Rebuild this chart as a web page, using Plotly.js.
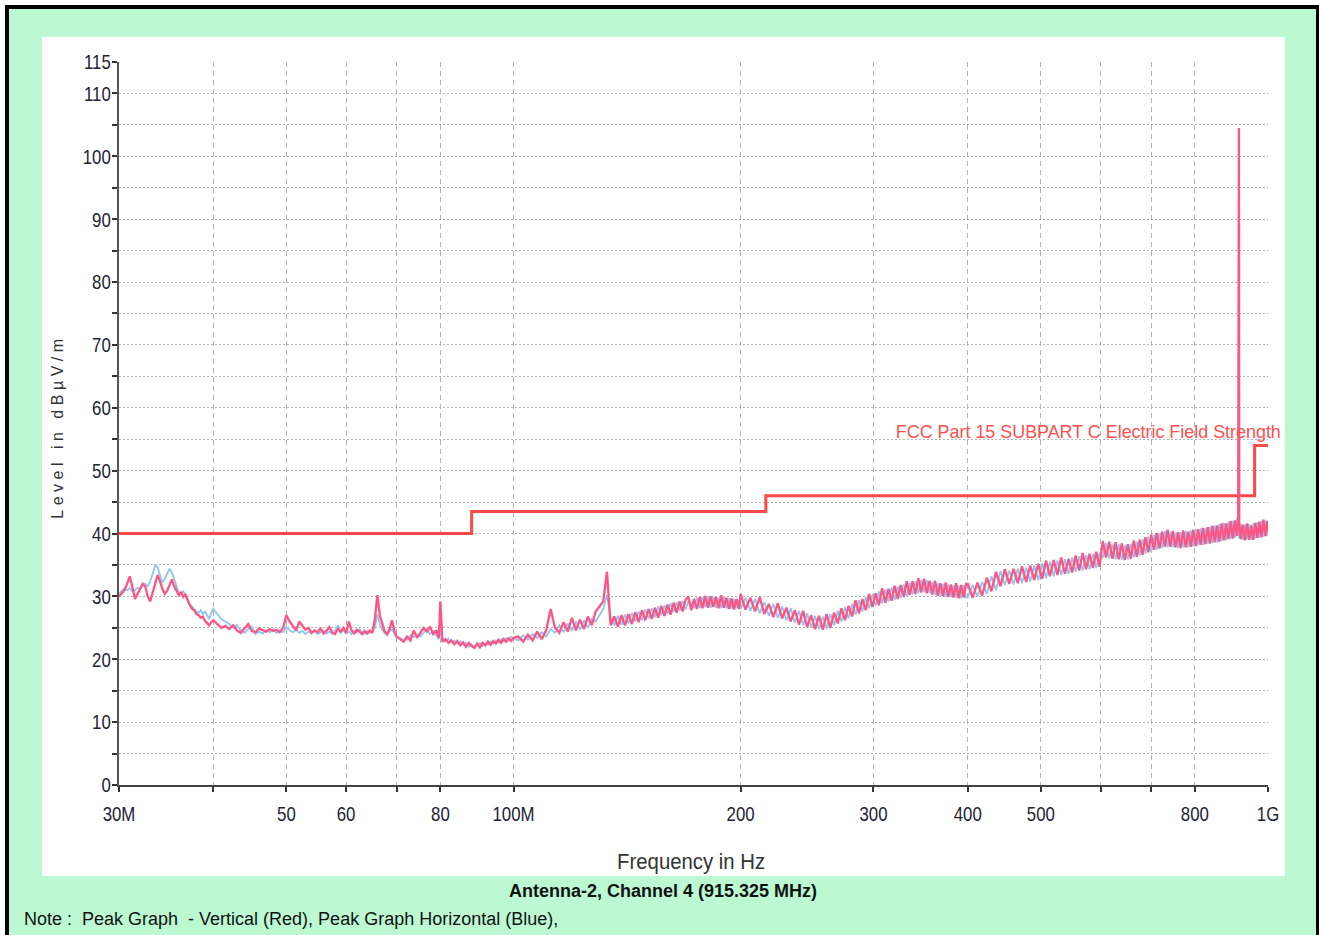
<!DOCTYPE html>
<html><head><meta charset="utf-8">
<script src="https://cdn.plot.ly/plotly-3.0.1.min.js"></script>
<style>html,body{margin:0;padding:0;background:#fff;} #chart{width:1319px;height:935px;}</style>
</head><body><div id="chart"></div>
<script>
// ---- data (MHz, dBµV/m) ----
const freqA = [30,30.25,30.5,30.75,31,31.25,31.5,31.75,32,32.25,32.5,32.75,33,33.25,33.5,33.75,34,34.25,34.5,34.75,35,35.25,35.5,35.75,36,36.25,36.5,36.75,37,37.25,37.5,37.75,38,38.25,38.5,38.75,39,39.25,39.5,39.75,40];
const redA = [30.0,30.5,31.0,32.0,33.2,31.5,29.6,30.4,31.2,32.0,31.6,30.0,29.2,30.6,32.2,33.4,32.4,31.2,30.4,30.9,31.8,32.7,31.6,30.8,30.2,30.7,29.9,30.3,29.4,28.6,28.0,27.8,27.2,27.0,26.6,26.8,26.1,25.8,25.4,25.9,26.2];
const blueA = [30.5,30.9,31.2,31.0,31.3,30.8,31.0,31.4,31.2,31.8,32.0,31.6,32.4,33.6,35.0,34.6,33.2,32.2,32.8,33.6,34.4,33.8,32.6,31.4,30.6,30.4,30.8,30.1,29.2,28.6,28.4,27.9,27.6,27.4,27.8,27.2,27.6,27.0,26.4,27.3,28.0];

const freqB = [40.5,41,41.5,42,42.5,43,43.5,44,44.5,45,45.5,46,46.5,47,47.5,48,48.5,49,49.5,50,50.5,51,51.5,52,52.5,53,53.5,54,54.5,55,55.5,56,56.5,57,57.5,58,58.5,59,59.5,60,60.5,61,61.5,62,62.5,63,63.5,64,64.5,65,65.5,66,66.5,67,67.5,68,68.5,69,69.5,70];
const redB = [25.6,25.0,25.3,24.8,25.4,24.6,24.2,24.9,25.6,24.5,24.3,24.9,24.6,24.4,24.8,24.5,24.7,24.3,25.0,27.0,26.0,25.2,24.6,26.0,25.4,24.7,25.0,24.2,24.6,24.3,24.9,24.1,24.5,25.1,24.3,24.0,24.8,24.4,25.0,24.2,26.0,24.6,24.1,24.7,24.4,24.0,24.5,24.1,24.6,24.2,26.4,30.2,27.0,25.6,24.4,24.0,24.8,26.2,24.6,23.6];
const blueB = [27.2,26.4,26.0,25.6,25.0,25.4,24.6,24.2,24.8,25.2,24.0,24.4,24.1,24.6,24.3,24.8,24.2,24.5,24.3,25.2,24.6,24.3,24.7,24.2,24.5,24.0,24.4,24.1,24.5,24.0,24.3,24.6,24.1,24.4,24.0,24.5,25.4,24.2,24.6,24.1,24.4,24.0,24.5,24.2,24.8,24.3,24.0,24.5,24.2,24.4,25.0,27.2,25.6,24.6,24.2,23.8,24.4,24.8,24.0,23.4];

const freqC = [70.75,71.5,72.25,73,73.75,74.5,75.25,76,76.75,77.5,78.25,79,79.6,80,80.5,81.25,82,82.75,83.5,84.25,85,85.75,86.5,87.25,88,88.75,89.5,90.25,91,91.75,92.5,93.25,94,94.75,95.5,96.25,97,97.75,98.5,99.25,100];
const redC = [23.2,22.8,23.6,23.0,24.6,23.4,24.2,25.0,24.4,25.2,24.0,24.6,23.4,29.2,22.8,23.2,22.6,23.0,22.4,22.9,22.2,22.7,22.0,22.6,22.1,21.8,22.5,21.9,22.6,22.2,22.8,22.3,22.9,22.5,23.1,22.6,23.2,22.8,23.3,22.9,23.4];
const blueC = [23.4,23.0,23.2,23.8,23.5,24.0,23.6,24.2,24.8,24.0,24.5,23.8,23.2,24.4,23.0,22.8,23.3,22.7,23.0,22.5,22.9,22.3,22.6,22.0,22.4,21.9,22.2,22.6,22.1,22.5,22.3,22.8,22.5,23.0,22.7,23.2,22.9,23.4,23.1,23.6,23.3];

const freqD = [101.5,103,104.5,106,107.5,109,110.5,112,113.5,115,116.5,118,119.5,121,122.5,124,125.5,127,128.5,130,131.5,133,134.5,136,137.5,139,140.5,142,143.5,145,146.5,148,149.5,151,152.5,154,155.5,157,158.5,160,161.5,163,164.5,166,167.5,169,170.5,172,173.5,175,176.5,178,179.5,181,182.5,184,185.5,187,188.5,190,191.5,193,194.5,196,197.5,199];
const redD = [23.6,22.8,23.9,23.0,24.4,23.2,24.6,28.0,25.0,24.2,25.9,24.4,26.6,24.6,26.3,24.8,26.8,25.4,27.6,28.4,29.2,33.9,25.4,26.8,25.2,27.0,25.4,27.2,25.6,27.5,25.9,27.8,26.2,28.0,26.4,28.2,26.6,28.5,26.9,28.7,27.1,29.0,27.4,29.2,27.6,29.4,30.0,27.8,29.6,28.0,29.9,28.1,30.1,28.2,30.0,28.3,29.9,28.1,30.2,28.2,29.8,28.0,29.7,27.9,29.6,28.0];
const blueD = [23.0,23.8,23.1,24.0,23.4,24.3,23.6,24.8,24.2,25.4,24.3,25.7,24.5,26.0,24.7,26.2,25.0,26.4,26.0,27.0,28.0,30.2,26.6,25.4,26.9,25.5,27.1,25.7,27.4,26.0,27.6,26.2,27.9,26.5,28.1,26.7,28.4,27.0,28.6,27.2,28.9,27.5,29.1,27.7,29.3,27.9,29.2,28.9,28.1,29.8,28.2,29.9,28.3,29.9,28.2,30.0,28.2,29.8,28.1,29.9,28.1,29.7,28.0,29.6,28.1,29.4];

const freqE = [200,203,206,209,212,215,218,221,224,227,230,233,236,239,242,245,248,251,254,257,260,263,266,269,272,275,278,281,284,287,290,293,296,299,302,305,308,311,314,317,320,323,326,329,332,335,338,341,344,347,350,353,356,359,362,365,368,371,374,377,380,383,386,389,392,395,398];
const redE = [30.4,27.9,29.8,27.6,29.9,27.2,28.8,26.7,28.9,26.5,28.2,26.0,27.8,25.5,27.7,25.1,27.0,24.8,26.9,24.7,27.2,25.0,27.4,25.7,28.1,26.2,28.5,26.8,29.4,27.3,29.6,27.8,30.4,28.3,30.5,28.6,31.3,29.0,31.2,29.3,31.7,29.6,31.8,29.9,32.4,30.2,32.4,30.4,32.9,30.6,32.8,30.5,32.5,30.3,32.5,30.1,32.1,30.0,32.2,29.9,31.9,29.8,32.1,29.7,31.8,29.8,32.0];
const blueE = [28.0,29.8,27.7,29.6,27.3,29.1,26.9,28.8,26.6,28.4,26.2,28.1,25.8,27.7,25.4,27.3,25.0,26.9,24.8,26.8,24.9,27.2,25.4,27.7,26.0,28.3,26.5,28.8,27.1,29.4,27.6,29.9,28.1,30.3,28.5,30.8,28.9,31.1,29.2,31.4,29.4,31.6,29.7,31.9,30.0,32.2,30.3,32.4,30.5,32.6,30.7,32.6,30.5,32.3,30.2,32.1,30.0,32.0,29.9,31.9,29.9,31.8,29.8,31.7,29.7,31.8,29.8];

const freqF = [400,406,412,418,424,430,436,442,448,454,460,466,472,478,484,490,496,502,508,514,520,526,532,538,544,550,556,562,568,574,580,586,592,598,604,610,616,622,628,634,640,646,652,658,664,670,676,682,688,694,700,706,712,718,724,730,736,742,748,754,760,766,772,778,784,790,796,802,808,814,820,826,832,838,844,850,856,862,868,874,880,886,892,898,904,910,913,914,915,916,920,926,932,938,944,950,956,962,968,974,980,986,992,998,1000];
const redF = [32.0,29.8,32.2,30.1,33.0,30.8,33.9,31.6,34.3,32.0,34.4,32.1,34.8,32.3,34.9,32.6,35.2,32.8,35.7,33.2,35.8,33.4,36.2,33.6,36.0,33.8,36.5,34.1,36.9,34.3,36.8,34.5,37.1,34.7,38.8,36.2,38.7,36.0,38.6,35.9,38.4,35.8,38.3,36.0,38.9,36.3,39.0,36.6,39.4,37.0,39.8,37.4,40.1,37.6,40.3,37.9,40.6,37.9,40.4,37.8,40.2,37.7,40.5,37.8,40.3,37.9,40.6,38.0,40.7,38.2,40.9,38.3,41.0,38.4,41.2,38.6,41.3,38.7,41.6,38.9,41.6,39.1,42.0,39.2,42.1,39.6,42.6,96.0,104.5,41.8,39.1,41.4,38.9,41.6,39.0,41.3,39.0,41.7,39.3,41.9,39.4,42.2,39.6,42.0,40.4];
const blueF = [29.9,31.8,30.0,32.3,30.4,33.2,31.0,34.0,31.8,34.1,31.9,34.4,32.1,34.6,32.4,34.9,32.6,35.3,32.9,35.5,33.2,35.7,33.4,35.9,33.6,36.2,33.9,36.4,34.1,36.6,34.3,36.8,34.5,36.9,36.1,38.5,36.0,38.4,35.9,38.3,35.8,38.2,35.9,38.4,36.2,38.7,36.5,39.1,36.8,39.5,37.1,39.8,37.4,40.1,37.7,40.4,37.8,40.3,37.8,40.1,37.7,40.2,37.8,40.4,37.8,40.5,37.9,40.7,38.1,40.8,38.2,40.9,38.3,41.1,38.5,41.3,38.6,41.5,38.8,41.7,38.9,41.9,39.1,42.0,39.3,42.4,40.6,41.2,39.5,39.3,41.5,39.0,41.4,39.1,41.5,39.0,41.6,39.2,41.8,39.3,42.0,39.5,42.1,39.6,41.5];

// limit line (FCC Part 15 Subpart C)
const limitFreq = [30, 88, 216, 960, 1000];
const limitLevel = [40, 43.5, 46, 54, 54];

// axis ticks
const xTickVals = [30,40,50,60,70,80,100,200,300,400,500,600,700,800,1000];
const xTickText = ['30M','','50','60','','80','100M','200','300','400','500','','','800','1G'];
const yTickVals = [0,5,10,15,20,25,30,35,40,45,50,55,60,65,70,75,80,85,90,95,100,105,110,115];
const yTickText = ['0','','10','','20','','30','','40','','50','','60','','70','','80','','90','','100','','110','115'];

const freq = [].concat(freqA, freqB, freqC, freqD, freqE, freqF);
const vertical = [].concat(redA, redB, redC, redD, redE, redF);
const horizontal = [].concat(blueA, blueB, blueC, blueD, blueE, blueF);

// ---- layout geometry ----
const L = 119, R = 1268, T = 62, B = 785;
const px = X => (X - L) / (R - L);
const py = Y => (B - Y) / (B - T);
const SANS = "'Liberation Sans', Arial, sans-serif";

const traces = [
  {x: limitFreq, y: limitLevel, type: 'scatter', mode: 'lines', line: {color: '#FF4848', width: 3, shape: 'hv'}, hoverinfo: 'skip'},
  {x: freq, y: horizontal, type: 'scatter', mode: 'lines', line: {color: '#8CC6F2', width: 1.8}, name: 'Horizontal'},
  {x: freq, y: vertical, type: 'scatter', mode: 'lines', line: {color: '#FF5585', width: 2.3}, name: 'Vertical'}
];

const layout = {
  width: 1319, height: 935, autosize: false,
  margin: {l: L, r: 1319 - R, t: T, b: 935 - B, pad: 0},
  paper_bgcolor: '#ffffff', plot_bgcolor: 'rgba(0,0,0,0)',
  showlegend: false,
  xaxis: {
    type: 'log', range: [Math.log10(30), Math.log10(1000)],
    tickmode: 'array', tickvals: xTickVals, ticktext: xTickText,
    ticks: 'outside', ticklen: 5, tickwidth: 2, tickcolor: '#333',
    ticklabelstandoff: 4,
    tickfont: {family: SANS, size: 21, color: '#222233'},
    showgrid: true, gridcolor: '#B4B4B4', gridwidth: 1, griddash: '5px,4px',
    showline: true, linecolor: '#444', linewidth: 2, zeroline: false
  },
  yaxis: {
    range: [0, 115],
    tickmode: 'array', tickvals: yTickVals, ticktext: yTickText,
    ticks: 'outside', ticklen: 5, tickwidth: 2, tickcolor: '#333',
    ticklabelstandoff: -3,
    tickfont: {family: SANS, size: 21, color: '#222233'},
    showgrid: true, gridcolor: '#B4B4B4', gridwidth: 1, griddash: '2px,2px',
    showline: true, linecolor: '#555', linewidth: 2, zeroline: false
  },
  shapes: [
    {type: 'rect', xref: 'paper', yref: 'paper', layer: 'below', x0: px(5), x1: px(1330), y0: py(950), y1: py(5), fillcolor: '#000000', line: {width: 0}},
    {type: 'rect', xref: 'paper', yref: 'paper', layer: 'below', x0: px(9), x1: px(1316), y0: py(950), y1: py(9), fillcolor: '#BCF9D2', line: {width: 0}},
    {type: 'rect', xref: 'paper', yref: 'paper', layer: 'below', x0: px(42), x1: px(1285), y0: py(876), y1: py(37), fillcolor: '#FFFFFF', line: {width: 0}}
  ],
  annotations: [
    {text: 'FCC Part 15 SUBPART C Electric Field Strength', xref: 'paper', yref: 'paper', x: px(1088), y: py(431), xanchor: 'center', yanchor: 'middle', showarrow: false, font: {family: SANS, size: 19, color: '#FF5050'}},
    {text: 'Frequency in Hz', xref: 'paper', yref: 'paper', x: px(691), y: py(861), xanchor: 'center', yanchor: 'middle', showarrow: false, font: {family: SANS, size: 22, color: '#333333'}},
    {text: '<b>Antenna-2, Channel 4 (915.325 MHz)</b>', xref: 'paper', yref: 'paper', x: px(663), y: py(891), xanchor: 'center', yanchor: 'middle', showarrow: false, font: {family: SANS, size: 18, color: '#111111'}},
    {text: 'Note :\u00A0 Peak Graph\u00A0 - Vertical (Red), Peak Graph Horizontal (Blue),', xref: 'paper', yref: 'paper', x: px(22), y: py(919), xanchor: 'left', yanchor: 'middle', showarrow: false, font: {family: SANS, size: 18, color: '#111111'}},
    {text: 'Level in dBµV/m', xref: 'paper', yref: 'paper', x: px(57), y: py(427), xanchor: 'center', yanchor: 'middle', textangle: -90, showarrow: false, font: {family: SANS, size: 16, color: '#333333'}}
  ]
};

function squeeze(el, target) {
  el.setAttribute('textLength', target);
  el.setAttribute('lengthAdjust', 'spacingAndGlyphs');
}

Plotly.newPlot('chart', traces, layout, {staticPlot: true, displayModeBar: false}).then(() => {
  document.querySelectorAll('.xtick text, .ytick text').forEach(t => {
    if (t.textContent) squeeze(t, t.getComputedTextLength() * 0.8);
  });
  document.querySelectorAll('.annotation-text').forEach(t => {
    const s = t.textContent;
    if (s.indexOf('Level in') === 0) t.style.letterSpacing = '4.5px';
    else if (s.indexOf('FCC') === 0) squeeze(t, 385);
    else if (s.indexOf('Frequency') === 0) squeeze(t, 148);
  });
});
</script></body></html>
